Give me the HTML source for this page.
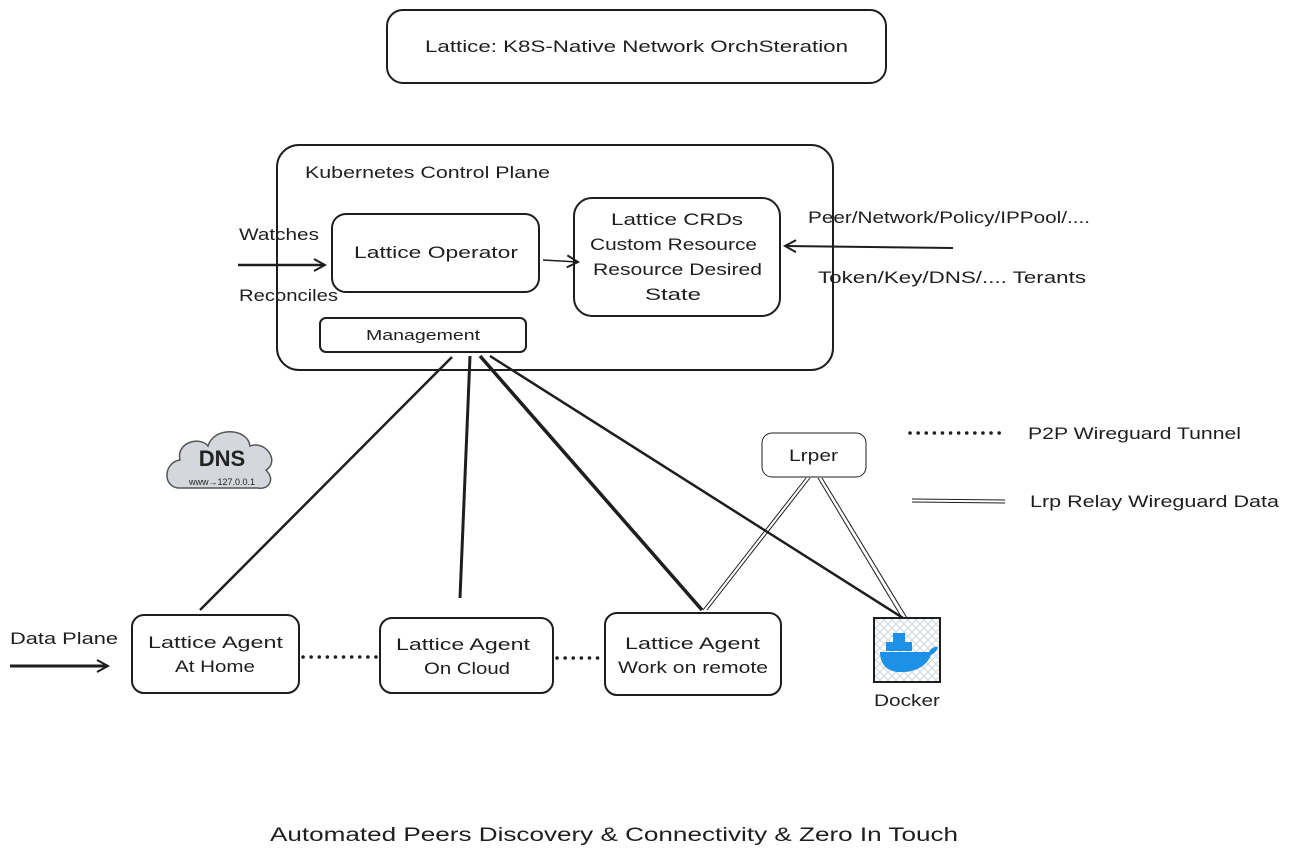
<!DOCTYPE html>
<html><head><meta charset="utf-8"><style>
html,body{margin:0;padding:0;background:#fff;}
svg text{font-family:"Liberation Sans",sans-serif;fill:#1e1e1e;}
</style></head><body>
<svg width="1289" height="860" viewBox="0 0 1289 860" xmlns="http://www.w3.org/2000/svg">
<defs>
<marker id="ah" markerWidth="14" markerHeight="14" refX="12" refY="7" orient="auto" markerUnits="userSpaceOnUse">
<path d="M1,1 L12,7 L1,13" fill="none" stroke="#1e1e1e" stroke-width="2"/></marker>
<pattern id="hatch" width="8" height="8" patternUnits="userSpaceOnUse">
<path d="M0,0 L8,8 M8,0 L0,8" stroke="#cfd6de" stroke-width="1"/></pattern>
</defs>
<g fill="none" stroke="#1e1e1e" stroke-width="2">
<rect x="387" y="10" width="499" height="73" rx="16"/>
<rect x="277" y="145" width="556" height="225" rx="22"/>
<rect x="332" y="214" width="207" height="78" rx="14"/>
<rect x="574" y="198" width="206" height="118" rx="18"/>
<rect x="320" y="318" width="206" height="34" rx="6"/>
<rect x="132" y="615" width="167" height="78" rx="12"/>
<rect x="380" y="618" width="173" height="75" rx="12"/>
<rect x="605" y="613" width="176" height="82" rx="12"/>
<rect x="762" y="433" width="104" height="44" rx="10" stroke-width="1"/>
<line x1="238" y1="265" x2="325" y2="265" stroke-width="2.5" marker-end="url(#ah)"/>
<line x1="543" y1="260" x2="578" y2="262" stroke-width="1.5" marker-end="url(#ah)"/>
<line x1="953" y1="248" x2="785" y2="246" stroke-width="2" marker-end="url(#ah)"/>
<line x1="10" y1="666" x2="108" y2="666" stroke-width="3" marker-end="url(#ah)"/>
<line x1="452" y1="357" x2="200" y2="610" stroke-width="2.5"/>
<line x1="470" y1="356" x2="460" y2="598" stroke-width="3"/>
<line x1="480" y1="356" x2="702" y2="610" stroke-width="3.5"/>
<line x1="490" y1="356" x2="903" y2="618" stroke-width="2.5"/>
<g stroke-width="1">
<line x1="806" y1="478" x2="703" y2="610"/><line x1="810" y1="478" x2="707" y2="610"/>
<line x1="818" y1="478" x2="902" y2="618"/><line x1="822" y1="478" x2="907" y2="618"/>
<line x1="912" y1="499" x2="1005" y2="500"/><line x1="912" y1="502" x2="1005" y2="503"/>
</g>
<g stroke-width="3.5" stroke-dasharray="0.1 8" stroke-linecap="round">
<line x1="910" y1="433" x2="1005" y2="433"/>
<line x1="303" y1="657" x2="377" y2="657"/>
<line x1="557" y1="658" x2="603" y2="658"/>
</g>
</g>
<path d="M178,488 C162,486 164,462 180,460 C176,442 200,436 208,446 C214,426 248,428 250,446 C266,440 280,462 266,470 C276,480 268,490 258,488 Z" fill="#d4d7dc" stroke="#555" stroke-width="1.5"/>
<text x="222" y="466" font-size="22" font-weight="bold" text-anchor="middle" style="fill:#222">DNS</text>
<text x="222" y="485" font-size="9" text-anchor="middle" style="fill:#222">www→127.0.0.1</text>
<rect x="874" y="618" width="66" height="64" fill="url(#hatch)" stroke="#1e1e1e" stroke-width="2"/>
<path d="M880,652 L929,652 C932,646 938,646 938,648 C936,652 933,654 931,655 C926,668 912,673 898,672 C885,671 880,662 880,652 Z" fill="#1d91e6"/>
<rect x="886" y="642" width="26" height="9" fill="#1d91e6"/>
<rect x="893" y="633" width="12" height="9" fill="#1d91e6"/>
<g font-size="17" lengthAdjust="spacingAndGlyphs">
<text x="425" y="52" textLength="423" lengthAdjust="spacingAndGlyphs">Lattice: K8S-Native Network OrchSteration</text>
<text x="305" y="178" textLength="245" lengthAdjust="spacingAndGlyphs">Kubernetes Control Plane</text>
<text x="354" y="258" textLength="164" lengthAdjust="spacingAndGlyphs">Lattice Operator</text>
<text x="611" y="225" textLength="132" lengthAdjust="spacingAndGlyphs">Lattice CRDs</text>
<text x="590" y="250" textLength="167" lengthAdjust="spacingAndGlyphs">Custom Resource</text>
<text x="593" y="275" textLength="169" lengthAdjust="spacingAndGlyphs">Resource Desired</text>
<text x="645" y="300" textLength="56" lengthAdjust="spacingAndGlyphs">State</text>
<text x="366" y="340" font-size="15" textLength="114" lengthAdjust="spacingAndGlyphs">Management</text>
<text x="239" y="240" textLength="80" lengthAdjust="spacingAndGlyphs">Watches</text>
<text x="239" y="301" textLength="99" lengthAdjust="spacingAndGlyphs">Reconciles</text>
<text x="808" y="223" textLength="282" lengthAdjust="spacingAndGlyphs">Peer/Network/Policy/IPPool/....</text>
<text x="818" y="283" textLength="268" lengthAdjust="spacingAndGlyphs">Token/Key/DNS/.... Terants</text>
<text x="789" y="461" textLength="49" lengthAdjust="spacingAndGlyphs">Lrper</text>
<text x="1028" y="439" textLength="213" lengthAdjust="spacingAndGlyphs">P2P Wireguard Tunnel</text>
<text x="1030" y="507" textLength="249" lengthAdjust="spacingAndGlyphs">Lrp Relay Wireguard Data</text>
<text x="10" y="644" textLength="108" lengthAdjust="spacingAndGlyphs">Data Plane</text>
<text x="148" y="648" textLength="135" lengthAdjust="spacingAndGlyphs">Lattice Agent</text>
<text x="175" y="672" textLength="80" lengthAdjust="spacingAndGlyphs">At Home</text>
<text x="396" y="650" textLength="134" lengthAdjust="spacingAndGlyphs">Lattice Agent</text>
<text x="424" y="674" textLength="86" lengthAdjust="spacingAndGlyphs">On Cloud</text>
<text x="625" y="649" textLength="135" lengthAdjust="spacingAndGlyphs">Lattice Agent</text>
<text x="618" y="673" textLength="150" lengthAdjust="spacingAndGlyphs">Work on remote</text>
<text x="874" y="706" textLength="66" lengthAdjust="spacingAndGlyphs">Docker</text>
<text x="270" y="841" font-size="19" textLength="688" lengthAdjust="spacingAndGlyphs">Automated Peers Discovery &amp; Connectivity &amp; Zero In Touch</text>
</g>
</svg>
</body></html>
